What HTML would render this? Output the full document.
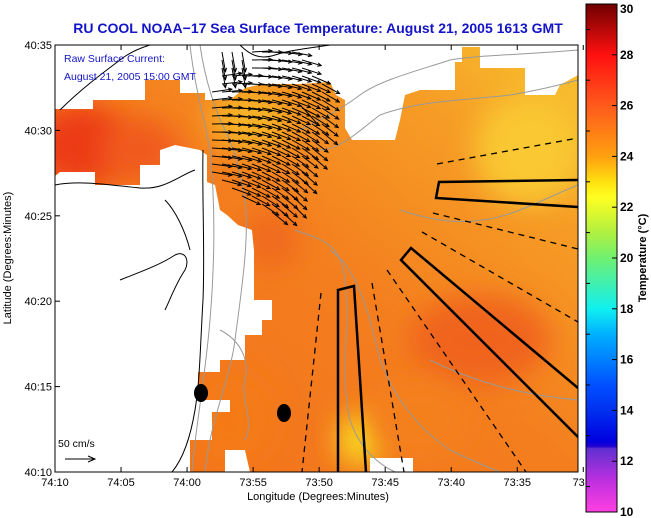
<!DOCTYPE html>
<html><head><meta charset="utf-8">
<style>
html,body{margin:0;padding:0;background:#fff;}
svg{display:block;font-family:"Liberation Sans",sans-serif;}
</style></head>
<body>
<svg id="chart" width="651" height="518" viewBox="0 0 651 518" xmlns="http://www.w3.org/2000/svg">
<defs>
  <linearGradient id="seaGrad" x1="0" y1="1" x2="1" y2="0">
    <stop offset="0" stop-color="#f2701c"/>
    <stop offset="0.5" stop-color="#f47e1e"/>
    <stop offset="0.8" stop-color="#f69e26"/>
    <stop offset="1" stop-color="#f8c430"/>
  </linearGradient>
  <linearGradient id="cbGrad" x1="0" y1="0" x2="0" y2="1">
    <stop offset="0" stop-color="#700000"/>
    <stop offset="0.1" stop-color="#ff1010"/>
    <stop offset="0.2" stop-color="#ff5a1c"/>
    <stop offset="0.3" stop-color="#ffa010"/>
    <stop offset="0.35" stop-color="#ffe010"/>
    <stop offset="0.38" stop-color="#ffff20"/>
    <stop offset="0.45" stop-color="#b0f040"/>
    <stop offset="0.5" stop-color="#70f070"/>
    <stop offset="0.55" stop-color="#40f0b0"/>
    <stop offset="0.6" stop-color="#10f0f0"/>
    <stop offset="0.65" stop-color="#00b0ff"/>
    <stop offset="0.7" stop-color="#0080ff"/>
    <stop offset="0.75" stop-color="#0050ff"/>
    <stop offset="0.8" stop-color="#0030f0"/>
    <stop offset="0.86" stop-color="#0000e0"/>
    <stop offset="0.871" stop-color="#2000d0"/>
    <stop offset="0.875" stop-color="#6030d0"/>
    <stop offset="0.94" stop-color="#c030e0"/>
    <stop offset="1" stop-color="#ff40e0"/>
  </linearGradient>
  <filter id="blur" x="-50%" y="-50%" width="200%" height="200%"><feGaussianBlur stdDeviation="14"/></filter>
  <clipPath id="seaClip"><path id="seaPathClip" d=""/></clipPath>
  <clipPath id="plotClip"><rect x="55" y="45" width="523" height="427"/></clipPath>
</defs>

<text x="318" y="33" text-anchor="middle" font-size="14" font-weight="bold" fill="#1414c8">RU COOL  NOAA−17  Sea Surface Temperature:  August 21, 2005 1613 GMT</text>

<g clip-path="url(#plotClip)">
  <path id="sea" fill="url(#seaGrad)" d=""/>
  <g clip-path="url(#seaClip)">
    <ellipse cx="80" cy="145" rx="50" ry="40" fill="#ec3a18" filter="url(#blur)"/>
    <ellipse cx="140" cy="150" rx="40" ry="30" fill="#f05a1a" filter="url(#blur)"/>
    <ellipse cx="250" cy="120" rx="40" ry="30" fill="#f8b428" filter="url(#blur)"/>
    <ellipse cx="530" cy="150" rx="55" ry="55" fill="#f9c830" filter="url(#blur)"/>
    <ellipse cx="480" cy="340" rx="70" ry="45" fill="#f0641c" filter="url(#blur)"/>
    <ellipse cx="360" cy="440" rx="22" ry="25" fill="#f8e020" filter="url(#blur)"/>
    <ellipse cx="270" cy="240" rx="30" ry="30" fill="#f06a1c" filter="url(#blur)"/>
    <ellipse cx="230" cy="420" rx="45" ry="50" fill="#f57a18" filter="url(#blur)"/>
    <ellipse cx="420" cy="420" rx="50" ry="40" fill="#f4801e" filter="url(#blur)"/>
  </g>

  <g fill="none" stroke="#999" stroke-width="1">
    <path d="M200,45 C205,80 215,110 225,130 C235,150 240,170 245,200 C250,240 240,300 235,340 C230,380 210,420 205,472"/>
    <path d="M190,45 C195,90 205,120 210,150 C215,200 215,260 210,320 C205,380 195,430 192,472"/>
    <path d="M300,130 C320,120 340,110 360,95 C380,80 420,70 450,60 C480,55 520,55 578,50"/>
    <path d="M320,150 C340,150 360,130 380,115 C420,100 470,100 510,95 C540,90 560,85 578,80"/>
    <path d="M295,230 C320,240 340,240 345,280 C350,330 340,380 350,420 C360,450 380,465 395,472"/>
    <path d="M330,250 C360,270 370,320 380,360 C395,400 420,430 450,450 C470,460 490,468 500,472"/>
    <path d="M400,210 C430,220 470,230 520,210 C545,200 565,190 578,185"/>
    <path d="M430,360 C470,380 520,395 578,400"/>
    <path d="M220,330 C240,340 250,360 245,380 C240,400 255,420 245,440"/>
  </g>

  <g fill="none" stroke="#000" stroke-width="1">
    <path d="M203,150 C202,200 205,250 203,300 C200,350 200,380 195,410 C190,440 182,460 172,472"/>
    <path d="M55,185 C80,180 110,185 140,188 C165,190 180,175 195,170"/>
    <path d="M120,280 C140,272 160,265 175,255 C185,250 190,260 185,270 C175,285 170,300 165,310"/>
    <path d="M165,200 C175,210 185,230 190,250"/>
    <path d="M60,110 C80,90 100,75 120,60 C130,52 140,48 150,45"/>
    <path d="M240,45 C250,55 260,60 275,55 C290,50 310,48 330,45"/>
    <path d="M300,105 C305,110 310,115 318,125"/>
  </g>

  <g id="arrows" stroke="#000" stroke-width="1" fill="none"></g>

  <g fill="none" stroke="#000">
    <line x1="437" y1="164" x2="578" y2="138" stroke-width="1.3" stroke-dasharray="6,5"/>
    <polyline points="578,180 439,182 436,198 578,207" stroke-width="2.5"/>
    <line x1="433" y1="213" x2="578" y2="249" stroke-width="1.3" stroke-dasharray="6,5"/>
    <line x1="422" y1="232" x2="578" y2="322" stroke-width="1.3" stroke-dasharray="6,5"/>
    <polyline points="578,388 411,248 401,260 578,437" stroke-width="2.5"/>
    <line x1="387" y1="270" x2="526" y2="472" stroke-width="1.3" stroke-dasharray="6,5"/>
    <line x1="372" y1="283" x2="404" y2="472" stroke-width="1.3" stroke-dasharray="6,5"/>
    <polyline points="338,472 338,290 354,286 366,472" stroke-width="2.5"/>
    <line x1="321" y1="293" x2="302" y2="472" stroke-width="1.3" stroke-dasharray="6,5"/>
  </g>

  <ellipse cx="201" cy="393" rx="7" ry="9" fill="#000"/>
  <ellipse cx="284" cy="413" rx="7" ry="9" fill="#000"/>

  <text x="64" y="62" font-size="10.5" fill="#1414c8">Raw Surface Current:</text>
  <text x="64" y="80" font-size="10.5" fill="#1414c8">August 21, 2005 15:00 GMT</text>
  <text x="58" y="447" font-size="10.5" fill="#000">50 cm/s</text>
  <g stroke="#000" fill="none">
    <line x1="65" y1="459" x2="95" y2="459"/><polyline points="88,456 95,459 88,462"/>
  </g>
</g>

<rect x="55" y="45" width="523" height="427" fill="none" stroke="#000" stroke-width="1"/>
<g id="xaxis"></g>
<g id="yaxis"></g>
<text x="318" y="500" text-anchor="middle" font-size="11">Longitude (Degrees:Minutes)</text>
<text transform="translate(11,258) rotate(-90)" text-anchor="middle" font-size="11">Latitude (Degrees:Minutes)</text>

<rect x="586" y="4" width="31" height="508" fill="url(#cbGrad)" stroke="#000" stroke-width="1"/>
<g id="cbaxis"></g>
<text transform="translate(646,258) rotate(-90)" text-anchor="middle" font-size="11" font-weight="bold">Temperature (°C)</text>
</svg>

<script>
// axis data
const xTickLabels = ["74:10","74:05","74:00","73:55","73:50","73:45","73:40","73:35","73:3"];
const xTickMinutes = [0,5,10,15,20,25,30,35,40];
const yTickLabels = ["40:35","40:30","40:25","40:20","40:15","40:10"];
const yTickMinutes = [25,20,15,10,5,0];
const cbTickValues = [30,28,26,24,22,20,18,16,14,12,10];

const NS = "http://www.w3.org/2000/svg";
function mk(tag, attrs, parent){const e=document.createElementNS(NS,tag);for(const k in attrs)e.setAttribute(k,attrs[k]);parent.appendChild(e);return e;}
function xScale(m){return 55 + m*(523/39.6);}
function yScale(m){return 472 - m*(427/25);}
function cbScale(v){return 512 - (v-10)*(508/20);}

const xa=document.getElementById('xaxis');
xTickMinutes.forEach((m,i)=>{
  const x=xScale(m);
  const t=mk('line',{x1:x,y1:472,x2:x,y2:467,stroke:'#000'},xa);
  
  
  const t2=mk('line',{x1:x,y1:45,x2:x,y2:50,stroke:'#000'},xa);
  
  
  const lb=mk('text',{x:x,y:486,'text-anchor':'middle','font-size':'11'},xa);
  lb.textContent=xTickLabels[i];
  
  
});
const ya=document.getElementById('yaxis');
yTickMinutes.forEach((m,i)=>{
  const y=yScale(m);
  const t=mk('line',{x1:55,y1:y,x2:60,y2:y,stroke:'#000'},ya);
  
  
  const lb=mk('text',{x:52,y:y+4,'text-anchor':'end','font-size':'11'},ya);
  lb.textContent=yTickLabels[i];
  
  
});
const cb=document.getElementById('cbaxis');
cbTickValues.forEach(v=>{
  const y=cbScale(v);
  const t=mk('line',{x1:612,y1:y,x2:617,y2:y,stroke:'#000'},cb);
  
  
  const lb=mk('text',{x:620,y:Math.min(Math.max(y+4,13),516),'font-size':'12','font-weight':'bold'},cb);
  lb.textContent=v;
  
  
});
for(let v=11; v<30; v+=2){
  const y=cbScale(v);
  const t=mk('line',{x1:586,y1:y,x2:590,y2:y,stroke:'#000'},cb);
  
  
}

// sea outline
const seaD = "M55,109 L93,109 L93,100 L145,100 L145,80 L180,80 L180,93 L205,93 L205,100 L230,100 L245,88 L262,84 L300,84 L330,82 L336,95 L345,100 L345,128 L352,140 L395,140 L400,120 L405,95 L420,90 L455,90 L455,62 L462,62 L462,47 L480,47 L480,68 L525,68 L525,95 L555,95 L560,85 L578,75 L578,472 L413,472 L413,458 L370,458 L370,472 L250,472 L245,450 L225,450 L225,472 L190,472 L190,440 L212,440 L212,412 L230,412 L230,400 L198,400 L198,372 L220,372 L220,360 L245,360 L245,335 L262,335 L262,320 L272,320 L272,300 L254,300 L254,250 L252,230 L238,225 L227,215 L220,210 L215,185 L207,182 L207,155 L200,150 L175,145 L160,150 L160,165 L140,165 L140,185 L95,185 L95,172 L60,172 L55,176 Z";
document.getElementById('sea').setAttribute('d',seaD);
document.getElementById('seaPathClip').setAttribute('d',seaD);

// current vectors
const ag=document.getElementById('arrows');
for(let y=52; y<=218; y+=8){
  for(let x=205; x<=330; x+=10){
    const jx = x + ((y*7)%7) - 3;
    let xmax = y<100 ? 300 + (y-52)*0.7 : 335 - (y-100)*0.4;
    let xmin = y<90 ? 218 : (y<180 ? 207 : 215 + (y-180)*1.6);
    if(jx<xmin || jx>xmax) continue;
    let ang;
    if(y<75 && jx<245){ ang = 115; }
    else { ang = -5 + Math.max(0,(jx-210))*0.35 + (y-110)*0.22; }
    ang = Math.min(ang, 80);
    ang = ang*Math.PI/180;
    const L = 20;
    const x2 = jx + L*Math.cos(ang), y2 = y + L*Math.sin(ang);
    const a = mk('line',{x1:jx,y1:y,x2:x2,y2:y2},ag);
    
    
    const h1=ang+2.7, h2=ang-2.7;
    const hd = mk('polyline',{points:`${x2+4*Math.cos(h1)},${y2+4*Math.sin(h1)} ${x2},${y2} ${x2+4*Math.cos(h2)},${y2+4*Math.sin(h2)}`},ag);
    
    
  }
}
</script>
</body></html>
